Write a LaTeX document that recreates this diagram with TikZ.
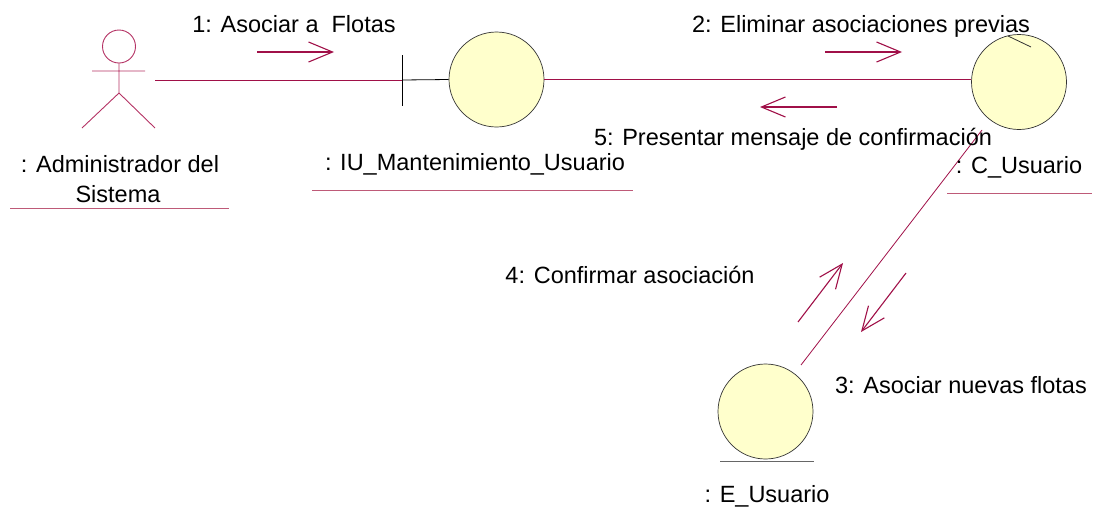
\documentclass[tikz,border=0pt]{standalone}
\usepackage{fontspec}
\setmainfont{Liberation Sans}
\usetikzlibrary{arrows.meta}
\definecolor{lnk}{RGB}{160,16,72}
\definecolor{uline}{RGB}{190,90,120}
\definecolor{actc}{RGB}{180,50,100}
\definecolor{entfill}{RGB}{255,255,204}
\tikzset{
  lbl/.style={inner sep=0pt, anchor=base, font=\fontsize{23.5}{27}\selectfont},
  obj/.style={circle, draw=black!80, line width=0.7pt, fill=entfill, minimum size=95pt, inner sep=0pt},
  link/.style={draw=lnk, line width=0.8pt},
  msg/.style={draw=lnk, line width=1.1pt, -{Straight Barb[length=24pt,width=20pt,line width=1.1pt]}},
  under/.style={draw=uline, line width=1pt},
}
\begin{document}
\begin{tikzpicture}[x=1pt,y=-1pt]
\useasboundingbox (0,0) rectangle (1100,512);
% actor
\draw[actc, line width=0.9pt] (119,46.5) circle (16.5);
\draw[actc, line width=0.9pt] (119,63) -- (119,93) (92,71) -- (145,71)
  (82,128) -- (119,93) -- (155,128);
\coordinate (act) at (155,80);
% objects
\node[obj] (iu) at (496.5,79.5) {};
\node[obj] (cu) at (1019,82) {};
\node[obj] (eu) at (765.5,411.5) {};
% boundary mark
\coordinate (bnd) at (402,80);
\draw[black, line width=0.8pt] (402,55) -- (402,106);
\draw[black, line width=0.8pt] (bnd) -- (iu.west);
% control mark
\draw[black!80, line width=0.8pt] (1008,36) -- (1031,47);
% entity base line
\draw[black!60, line width=1pt] (720,461) -- (814,461);
% links
\draw[link] (act) -- (bnd);
\draw[link] (iu.east) -- (cu.west |- iu.east);
\coordinate (ea) at (801,365);
\coordinate (ca) at (982,130);
\draw[link] (ea) -- (ca);
% labels
\node[lbl] (n1) at (294,32) {1: Asociar a\ \ Flotas};
\node[lbl] (n2) at (861,32) {2: Eliminar asociaciones previas};
\node[lbl] (n5) at (793,145) {5: Presentar mensaje de confirmación};
\node[lbl] (n4) at (630,283) {4: Confirmar asociación};
\node[lbl] (n3) at (961,393) {3: Asociar nuevas flotas};
\node[lbl] (la) at (120,172) {: Administrador del};
\node[lbl] (lb) at (118,202) {Sistema};
\node[lbl] (li) at (475,170) {: IU\_Mantenimiento\_Usuario};
\node[lbl] (lc) at (1019,173) {: C\_Usuario};
\node[lbl] (le) at (767,502) {: E\_Usuario};
% underlines
\draw[under] (10,208) -- (229,208);
\draw[under] (312,190) -- (633,190);
\draw[under] (947,193) -- (1092,193);
% message arrows
\coordinate (m1a) at (257,52); \coordinate (m1b) at (334,52);
\coordinate (m2a) at (825,52); \coordinate (m2b) at (902,52);
\coordinate (m5a) at (837,107); \coordinate (m5b) at (760,107);
\coordinate (m4a) at (798,322); \coordinate (m4b) at (843,263);
\coordinate (m3a) at (906,273); \coordinate (m3b) at (861,332);
\draw[msg] (m1a) -- (m1b);
\draw[msg] (m2a) -- (m2b);
\draw[msg] (m5a) -- (m5b);
\draw[msg] (m4a) -- (m4b);
\draw[msg] (m3a) -- (m3b);
\end{tikzpicture}
\end{document}
